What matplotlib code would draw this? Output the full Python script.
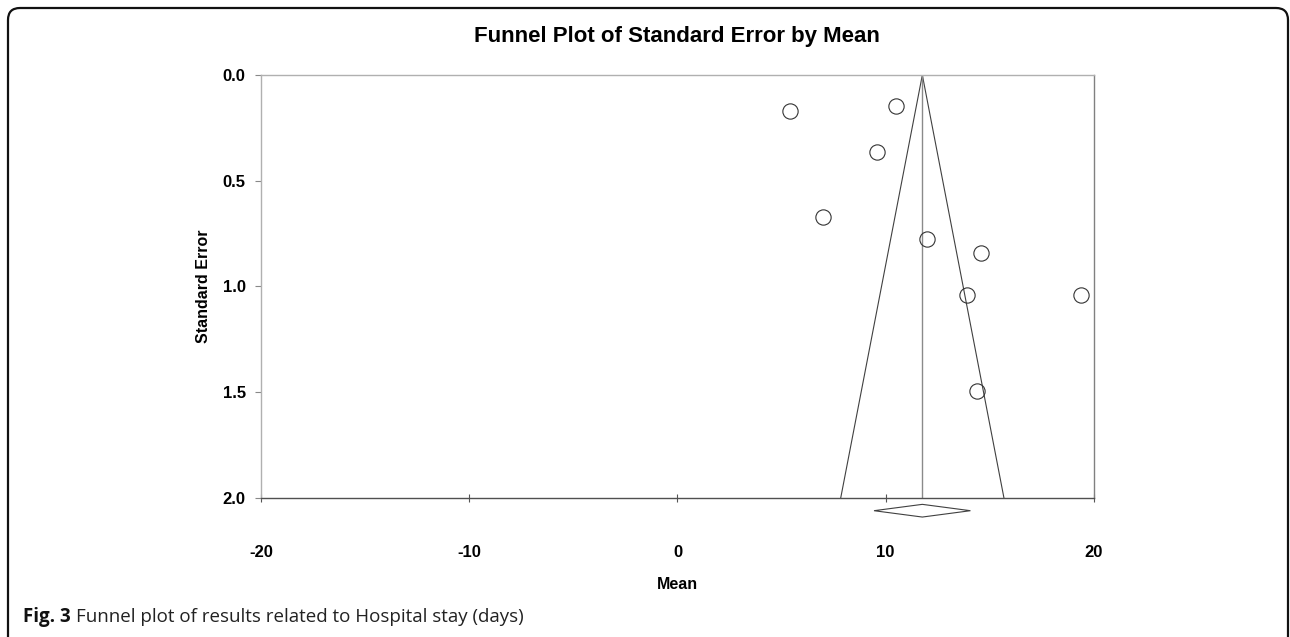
import numpy as np
import matplotlib
matplotlib.use('Agg')
import matplotlib.pyplot as plt
from matplotlib.patches import FancyBboxPatch, Polygon

# study estimates
means = [5.4, 10.5, 9.6, 7.0, 12.0, 14.6, 13.9, 19.4, 14.4]
std_errs = [0.17, 0.145, 0.365, 0.67, 0.775, 0.84, 1.04, 1.04, 1.495]
pooled_mean = 11.76
pooled_lo = 9.44
pooled_hi = 14.07

x_ticks = [-20, -10, 0, 10, 20]
y_ticks = [0.0, 0.5, 1.0, 1.5, 2.0]

plt.rcParams['font.family'] = ['Liberation Sans', 'DejaVu Sans']

fig = plt.figure(figsize=(12.9, 6.37), dpi=100)
ax = fig.add_axes([0.2023, 0.2182, 0.6457, 0.6641])

# funnel (95% limits) and pooled mean line
se_max = 2.0
ax.plot([pooled_mean - 1.96 * se_max, pooled_mean, pooled_mean + 1.96 * se_max],
        [se_max, 0, se_max], color='#404040', lw=0.8)
ax.plot([pooled_mean, pooled_mean], [0, se_max], color='#8a8a8a', lw=1.0)

ax.plot(means, std_errs, 'o', ms=11, mfc='none', mec='#333333', mew=0.8)

# pooled estimate diamond below the axis
diamond = Polygon([[pooled_lo, 2.06], [pooled_mean, 2.03], [pooled_hi, 2.06], [pooled_mean, 2.09]],
                  closed=True, fill=False, edgecolor='#404040', lw=0.8, clip_on=False)
ax.add_patch(diamond)

ax.set_xlim(-20, 20)
ax.set_ylim(2.0, 0.0)
ax.set_xticks(x_ticks)
ax.set_yticks(y_ticks)
ax.set_xticklabels([str(v) for v in x_ticks], fontweight='bold', fontsize=12)
ax.set_yticklabels(['%.1f' % v for v in y_ticks], fontweight='bold', fontsize=12)
ax.tick_params(axis='x', direction='inout', length=6, width=0.8, color='#555555', pad=31)
ax.tick_params(axis='y', direction='out', length=4, width=0.8, color='#888888', pad=7)

ax.spines['top'].set_color('#b0b0b0')
ax.spines['left'].set_color('#b0b0b0')
ax.spines['right'].set_color('#808080')
ax.spines['bottom'].set_color('#505050')
for s in ax.spines.values():
    s.set_linewidth(1.0)

ax.set_xlabel('Mean', fontweight='bold', fontsize=11.5, labelpad=12)
ax.set_ylabel('Standard Error', fontweight='bold', fontsize=11.5, labelpad=8)
fig.text(0.525, 0.943, 'Funnel Plot of Standard Error by Mean', ha='center', va='center',
         fontweight='bold', fontsize=16)

# caption
renderer = fig.canvas.get_renderer()
t1 = fig.text(0.0178, 0.031, 'Fig. 3', fontsize=13.5, fontweight='bold', family=['Open Sans', 'DejaVu Sans'],
              color='#111111', va='center')
bb = t1.get_window_extent(renderer=renderer)
x2 = (bb.x1 + 5) / fig.bbox.width
fig.text(x2, 0.031, 'Funnel plot of results related to Hospital stay (days)', fontsize=13.5,
         family=['Open Sans', 'DejaVu Sans'], color='#222222', va='center')

# rounded frame around the figure panel (inch coordinates)
frame = FancyBboxPatch((0.08, -0.5), 12.8, 6.29 + 0.5,
                       boxstyle='round,pad=0,rounding_size=0.12', transform=fig.dpi_scale_trans,
                       fill=False, edgecolor='#111111', lw=1.6)
fig.patches.append(frame)

fig.savefig('out.png', dpi=100)
